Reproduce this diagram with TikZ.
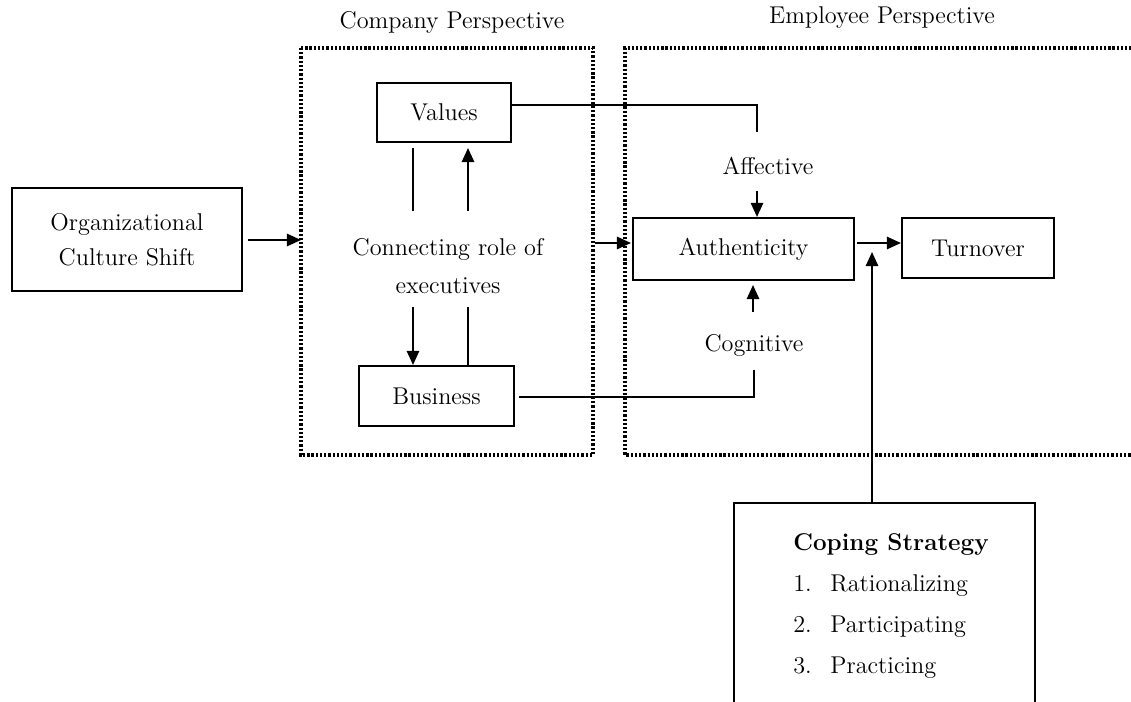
\documentclass[tikz,border=0pt]{standalone}
\usetikzlibrary{arrows.meta}
\begin{document}
\begin{tikzpicture}[x=0.02cm,y=-0.02cm,
  every node/.style={font=\fontsize{13.8}{16}\selectfont},
  box/.style={draw,line width=1.2pt,inner sep=0pt,align=center},
  lbl/.style={inner sep=1pt,align=center},
  ln/.style={line width=1.1pt},
  arr/.style={line width=1.1pt,-{Triangle[length=8pt,width=7pt]}},
  dots/.style={line width=2pt,dash pattern=on 1.3pt off 1.1pt}]
\useasboundingbox (0,0) rectangle (1131,702);
\clip (0,0) rectangle (1131,702);
% perspective frames
\draw[dots] (301,48) rectangle (593,455);
\draw[dots] (1140,48) -- (625,48) -- (625,455) -- (1140,455);
\node[lbl] (tcomp) at (452,22) {Company Perspective};
\node[lbl] (temp) at (882,18) {Employee Perspective};
\coordinate (cL) at (301,240);
\coordinate (cR) at (593,243);
% boxes
\node[box,minimum width=4.6cm,minimum height=2.06cm] (org) at (127,239.5) {Organizational\\[4pt]Culture Shift};
\node[box,minimum width=2.68cm,minimum height=1.18cm] (val) at (444,112.5) {Values};
\node[box,minimum width=3.1cm,minimum height=1.2cm] (bus) at (436.5,396) {Business};
\node[lbl] (conn) at (448,266) {Connecting role of\\[6pt]executives};
\node[box,minimum width=4.42cm,minimum height=1.24cm] (auth) at (743.5,249) {Authenticity};
\node[box,minimum width=3.04cm,minimum height=1.2cm] (turn) at (978,248) {Turnover};
\node[lbl] (aff) at (768,166) {Affective};
\node[lbl] (cog) at (754,345) {Cognitive};
\node[box,minimum width=6.02cm,minimum height=4.6cm,anchor=north west] (cop) at (733,502) {};
\node[anchor=base west,inner sep=0pt] (ch) at (793,550) {\bfseries Coping Strategy};
\node[anchor=base west,inner sep=0pt] (n1) at (793,591) {1.};
\node[anchor=base west,inner sep=0pt] (i1) at (830,591) {Rationalizing};
\node[anchor=base west,inner sep=0pt] (n2) at (793,632) {2.};
\node[anchor=base west,inner sep=0pt] (i2) at (830,632) {Participating};
\node[anchor=base west,inner sep=0pt] (n3) at (793,673) {3.};
\node[anchor=base west,inner sep=0pt] (i3) at (830,673) {Practicing};
% connectors
\draw[arr] (org.east |- cL) ++(5,0) -- (cL);
\draw[arr] (cR) ++(2,0) -- (631,243);
\draw[arr] (857,243) -- (turn.west |- 857,243);
\draw[ln] (val.east |- 0,105) -- (757,105) -- (757,132);
\draw[arr] (757,191) -- (auth.north -| 757,0);
\draw[ln] (bus.east |- 0,397) ++(4,0) -- (754,397) -- (754,370);
\draw[arr] (753,312) -- (753,285);
\draw[arr] (cop.north -| 872,0) -- (872,252);
\draw[ln] (413,211) -- (413,148);
\draw[arr] (468,211) -- (468,148);
\draw[arr] (413,307) -- (bus.north -| 413,0);
\draw[ln] (468,307) -- (bus.north -| 468,0);
\end{tikzpicture}
\end{document}
